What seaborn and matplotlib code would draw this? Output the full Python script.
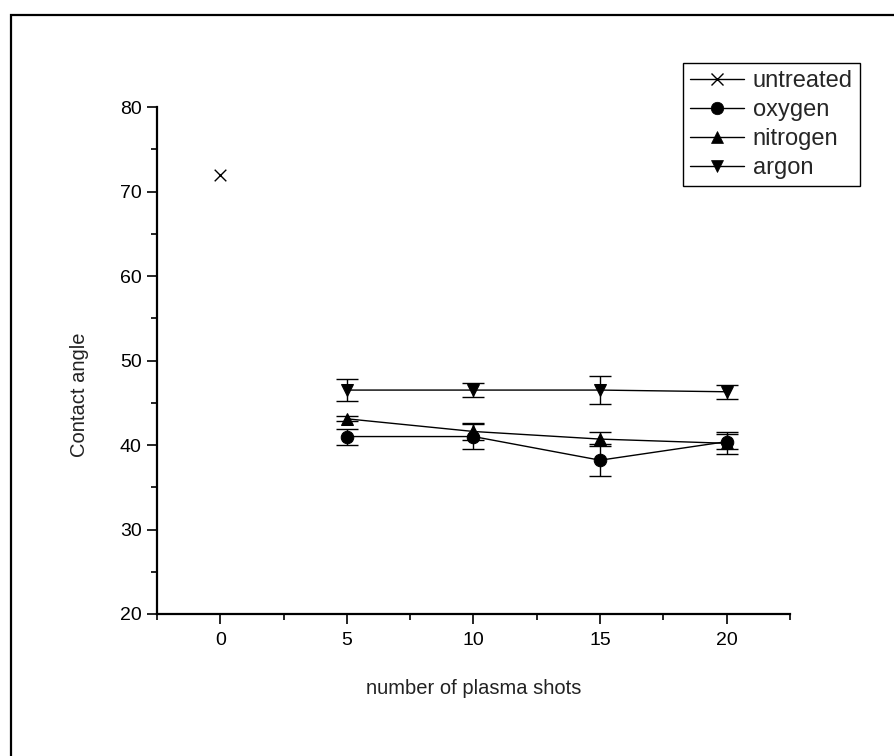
import matplotlib
matplotlib.use("Agg")
import matplotlib.pyplot as plt
import seaborn as sns
import pandas as pd
from matplotlib.lines import Line2D
from matplotlib.patches import Rectangle
from matplotlib.ticker import MultipleLocator

# ---- data ----
untreated_x = [0]
untreated_y = [72.0]

shots = [5, 10, 15, 20]
oxygen = [41.0, 41.0, 38.2, 40.4]
oxygen_err = [0.95, 1.5, 1.9, 0.9]
nitrogen = [43.1, 41.6, 40.7, 40.2]
nitrogen_err = [0.3, 1.0, 0.8, 1.3]
argon = [46.5, 46.5, 46.5, 46.3]
argon_err = [1.3, 0.85, 1.65, 0.85]

series_names = ["untreated", "oxygen", "nitrogen", "argon"]
series_markers = {"untreated": "x", "oxygen": "o", "nitrogen": "^", "argon": "v"}
gas_names = ["oxygen", "nitrogen", "argon"]

xticks = [0, 5, 10, 15, 20]
yticks = [20, 30, 40, 50, 60, 70, 80]

rows = []
for name, vals, errs in [("oxygen", oxygen, oxygen_err),
                         ("nitrogen", nitrogen, nitrogen_err),
                         ("argon", argon, argon_err)]:
    for x, y, e in zip(shots, vals, errs):
        rows.append(dict(shots=x, angle=y, err=e, gas=name))
df = pd.DataFrame(rows)
df_un = pd.DataFrame(dict(shots=untreated_x, angle=untreated_y))

sns.set_theme(style="white")
plt.rcParams["font.family"] = ["Liberation Sans", "DejaVu Sans"]

fig = plt.figure(figsize=(8.95, 7.56), dpi=100)
ax = fig.add_axes([157 / 895, 1 - 614 / 756, (790 - 157) / 895, (614 - 107) / 756])

# error bars
for name in gas_names:
    sub = df[df.gas == name]
    ax.errorbar(sub.shots, sub.angle, yerr=sub.err, fmt="none", ecolor="black",
                elinewidth=1.0, capsize=8, capthick=1.0, zorder=2)

sns.lineplot(data=df, x="shots", y="angle", hue="gas", style="gas",
             hue_order=gas_names, style_order=gas_names,
             palette=["black"] * 3, markers={k: series_markers[k] for k in gas_names},
             dashes=False, markersize=9, linewidth=1.0, markeredgecolor="black",
             legend=False, ax=ax, zorder=3)
sns.scatterplot(data=df_un, x="shots", y="angle", marker="x", color="black",
                s=70, linewidth=1.0, legend=False, ax=ax, zorder=3)

ax.set_xlim(-2.5, 22.5)
ax.set_ylim(20, 80)
ax.set_xticks(xticks)
ax.set_yticks(yticks)
ax.xaxis.set_minor_locator(MultipleLocator(2.5))
ax.yaxis.set_minor_locator(MultipleLocator(5))
ax.tick_params(axis="both", which="major", direction="out", length=7, width=1.2,
               color="black", labelsize=14, labelcolor="black", bottom=True, left=True)
ax.tick_params(axis="x", which="major", pad=6)
ax.tick_params(axis="y", which="major", pad=4)
ax.tick_params(axis="both", which="minor", direction="out", length=4, width=1.2,
               color="black", bottom=True, left=True)

for s in ["top", "right"]:
    ax.spines[s].set_visible(False)
for s in ["left", "bottom"]:
    ax.spines[s].set_color("black")
    ax.spines[s].set_linewidth(1.6)

ax.set_xlabel("number of plasma shots", fontsize=14.5, color="#222222")
ax.set_ylabel("Contact angle", fontsize=14.5, color="#222222")
ax.xaxis.set_label_coords(0.5, -0.128)
ax.yaxis.set_label_coords(-0.123, 0.432)
ax.yaxis.label.set_va("center")

handles = [Line2D([0], [0], color="black", lw=1.0, marker=series_markers[n],
                  markersize=9,
                  markeredgewidth=1.0 if n == "untreated" else 0.5,
                  markerfacecolor="black", markeredgecolor="black")
           for n in series_names]
leg = ax.legend(handles, series_names, loc="upper left",
                bbox_to_anchor=(683 / 895, 1 - 63 / 756), bbox_transform=fig.transFigure,
                frameon=True, fancybox=False, fontsize=17,
                handlelength=2.3, handletextpad=0.35, labelspacing=0.3,
                borderpad=0.3, borderaxespad=0, framealpha=1)
leg.get_frame().set_edgecolor("black")
leg.get_frame().set_linewidth(1.0)

# outer frame
fig.patches.append(Rectangle((11 / 895, -0.05), 1.2, 1 - 15 / 756 + 0.05,
                             transform=fig.transFigure, fill=False,
                             edgecolor="black", linewidth=1.6, zorder=0))

fig.savefig("out.png", dpi=100)
